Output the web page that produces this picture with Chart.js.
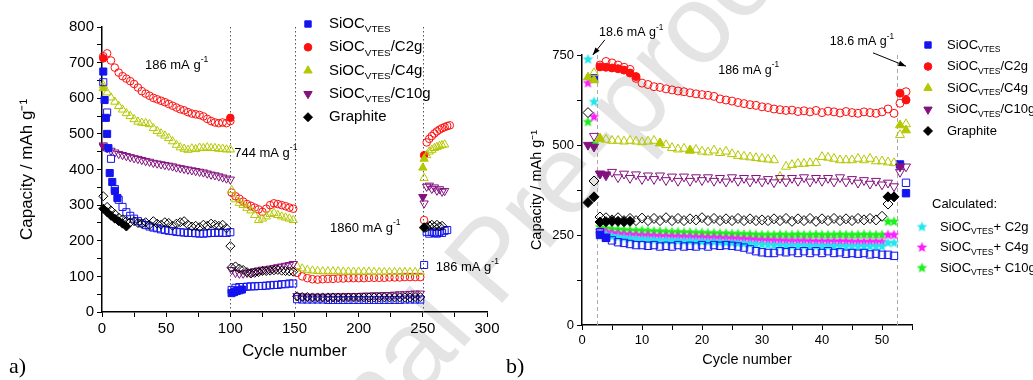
<!DOCTYPE html>
<html>
<head>
<meta charset="utf-8">
<script src="https://cdn.jsdelivr.net/npm/chart.js@4.4.1/dist/chart.umd.min.js"></script>
<style>
  html, body { margin: 0; padding: 0; background: #fff; }
  #wrap { position: relative; width: 1033px; height: 380px; overflow: hidden; }
  #wm { position: absolute; left: 490px; top: 259px; transform: translate(-50%, -50%) rotate(-49deg);
        font: 112px "Liberation Sans", Arial, sans-serif; color: #e4e4e4; white-space: nowrap; line-height: 1; }
  canvas { position: absolute; top: 0; }
  #ca { left: 0; }
  #cb { left: 515px; }
  .tag { position: absolute; font: 22px "Liberation Serif", "Times New Roman", serif; color: #000; }
</style>
</head>
<body>
<div id="wrap">
  <div id="wm">Journal Pre-proof</div>
  <canvas id="ca" width="515" height="380"></canvas>
  <canvas id="cb" width="518" height="380"></canvas>
  <div class="tag" style="left:9px;top:353px">a)</div>
  <div class="tag" style="left:506px;top:353px">b)</div>
</div>
<script>
// ---------- panel a: rate test, cycles 1-272 ----------
const aCycA = [1, 4, 7, 10, 13, 16, 19, 22, 25, 28, 31, 34, 37, 40, 43, 46, 49, 52, 55, 58, 61, 64, 67, 70, 73, 76, 79, 82, 85, 88, 91, 94, 97, 100];
const aCycB = [101, 104, 107, 110, 113, 116, 119, 122, 125, 128, 131, 134, 137, 140, 143, 146, 149];
const aCycC = [152, 156, 160, 164, 168, 172, 176, 180, 184, 188, 192, 196, 200, 204, 208, 212, 216, 220, 224, 228, 232, 236, 240, 244, 248];
const aCycD = [251, 253, 255, 257, 259, 261, 263, 265, 267, 269, 271];

const aRed = [718, 726, 706, 686, 672, 662, 655, 648, 640, 630, 620, 613, 607, 601, 597, 593, 589, 584, 579, 574, 569, 566, 561, 557, 555, 553, 549, 542, 536, 532, 530, 532, 530, 536,
  335, 325, 318, 310, 303, 298, 293, 288, 281, 290, 300, 305, 303, 300, 297, 293, 290,
  110, 100, 95, 92, 91, 92, 93, 93, 94, 94, 95, 95, 95, 95, 96, 96, 96, 96, 97, 97, 97, 98, 98, 98, 98,
  258, 476, 486, 494, 501, 507, 512, 516, 519, 522, 524];
const aYellow = [636, 616, 602, 590, 578, 568, 558, 550, 541, 534, 531, 530, 527, 516, 508, 501, 495, 488, 479, 469, 462, 458, 455, 459, 457, 461, 460, 462, 460, 460, 458, 458, 456, 456,
  342, 316, 306, 300, 292, 285, 272, 258, 262, 268, 275, 278, 272, 268, 265, 262, 258,
  128, 122, 118, 116, 115, 114, 114, 114, 114, 113, 113, 113, 113, 113, 113, 112, 112, 112, 112, 112, 112, 112, 112, 112, 112,
  376, 440, 450, 455, 460, 463, 466, 468, 470, null, null];
const aPurple = [468, 460, 453, 448, 444, 441, 438, 435, 432, 430, 427, 424, 422, 419, 417, 415, 413, 411, 409, 406, 404, 402, 400, 398, 396, 394, 392, 389, 386, 384, 381, 378, 375, 372,
  118, 110, 108, 108, 110, 112, 115, 117, 119, 120, 122, 124, 126, 128, 130, 132, 135,
  45, 44, 43, 43, 43, 43, 43, 44, 44, 44, 45, 45, 45, 46, 46, 47, 47, 48, 48, 49, 50, 50, 51, 52, 52,
  305, 352, 355, 346, 350, 341, 345, 338, 340, null, null];
const aBlue = [645, 560, 430, 345, 315, 295, 280, 270, 262, 255, 249, 244, 240, 237, 235, 232, 230, 228, 227, 225, 224, 223, 222, 222, 221, 220, 220, 221, 222, 222, 223, 222, 222, 224,
  62, 68, 70, 70, 71, 72, 72, 73, 73, 74, 75, 76, 76, 78, 78, 80, 80,
  36, 35, 35, 35, 35, 35, 34, 34, 34, 34, 34, 34, 34, 34, 34, 34, 34, 34, 34, 34, 34, 35, 35, 35, 35,
  132, 225, 220, 225, 222, 220, 225, 222, 228, 230, null];
const aBlack = [325, 295, 285, 275, 265, 260, 255, 252, 255, 250, 248, 252, 245, 255, 248, 245, 252, 250, 242, 248, 252, 255, 245, 240, 242, 238, 245, 242, 248, 245, 242, 245, 235, 185,
  125, 128, 122, 118, 112, 108, 110, 112, 115, 115, 116, 117, 118, 116, 115, 114, 113,
  44, 42, 42, 41, 41, 41, 41, 41, 41, 41, 41, 41, 41, 41, 41, 41, 41, 41, 41, 41, 41, 41, 41, 42, 42,
  236, 238, 242, 245, 240, 245, 240, 242, null, null, null];

// charge points drawn with filled symbols
const aBlueFillCyc = [1, 2, 3, 4, 5, 6, 8, 10, 12, 101, 103, 105, 107, 109];
const aBlueFill = [675, 595, 545, 500, 460, 390, 365, 340, 320, 53, 56, 59, 61, 63];
const aRedFillCyc = [1, 100, 251];
const aRedFill = [712, 545, 440];
const aYellowFillCyc = [1, 250, 251];
const aYellowFill = [628, 405, 430];
const aPurpleFillCyc = [1, 250];
const aPurpleFill = [465, 323];
const aBlackFillCyc = [1, 4, 7, 10, 13, 16, 19, 251];
const aBlackFill = [290, 280, 270, 262, 255, 248, 240, 238];

const aRateLines = [100, 150, 250];

// ---------- panel b: cycles 1-54 ----------
const bCyc = [1, 2, 3, 4, 5, 6, 7, 8, 9, 10, 11, 12, 13, 14, 15, 16, 17, 18, 19, 20, 21, 22, 23, 24, 25, 26, 27,
  28, 29, 30, 31, 32, 33, 34, 35, 36, 37, 38, 39, 40, 41, 42, 43, 44, 45, 46, 47, 48, 49, 50, 51, 52, 53, 54];

const bRed = [null, null,
  722, 732, 728, 722, 716, 710, 685, 672, 668, 662, 660, 656, 653, 650, 648, 645, 642, 640, 638, 635, 628, 625, 622, 618, 615,
  612, 610, 606, 604, 600, 598, 596, 597, 593, 595, 592, 596, 590, 594, 592, 589, 593, 590, 588, 592, 590, 588, 592, 600, 588,
  616, 648];
const bYellow = [null, 700,
  518, 515, 512, 512, 510, 512, 510, 508, 510, 512, 505, 500, 492, 488, 490, 485, 487, 482, 480, 485, 478, 482, 475, 470, 468,
  466, 464, 462, 460, 458, 412, 440, 445, 448, 448, 450, 450, 467, 465, 462, 458, 458, 458, 462, 458, 462, 455, 455, 452, 450,
  528, 558];
const bPurple = [null, 525,
  420, 415, 425, 410, 420, 408, 418, 405, 415, 405, 415, 402, 412, 400, 412, 400, 410, 402, 410, 400, 408, 398, 410, 400, 408,
  398, 408, 398, 405, 396, 408, 398, 408, 400, 410, 398, 408, 400, 408, 398, 410, 398, 405, 395, 402, 392, 400, 390, 395, 385,
  425, 440];
const bBlue = [null, null,
  258, 242, 235, 230, 228, 225, 222, 222, 220, 222, 218, 220, 218, 222, 218, 220, 218, 222, 218, 222, 220, 222, 220, 218, 215,
  210, 205, 202, 200, 200, 205, 202, 205, 200, 205, 200, 205, 200, 205, 200, 202, 198, 200, 198, 200, 196, 198, 195, 195, 192,
  null, 395];
const bBlack = [590, 400,
  300, 298, 292, 298, 290, 296, 290, 297, 290, 296, 290, 298, 290, 296, 290, 295, 292, 298, 290, 296, 290, 295, 290, 296, 290,
  295, 290, 292, 290, 295, 290, 296, 288, 295, 290, 296, 288, 295, 290, 296, 290, 295, 290, 296, 292, 296, 292, 302, 336, null,
  null, null];

const bRedFillCyc = [3, 4, 5, 6, 7, 8, 9, 53, 54];
const bRedFill = [717, 716, 714, 712, 708, 700, 690, 644, 625];
const bYellowFillCyc = [1, 2, 3, 13, 18, 53, 54];
const bYellowFill = [688, 680, 518, 505, 485, 555, 541];
const bPurpleFillCyc = [1, 2, 3, 4, 53];
const bPurpleFill = [500, 495, 420, 418, 440];
const bBlueFillCyc = [2, 3, 4, 53, 54];
const bBlueFill = [685, 250, 242, 446, 366];
const bBlackFillCyc = [1, 2, 3, 4, 5, 6, 7, 8, 51, 52];
const bBlackFill = [340, 356, 286, 287, 288, 288, 287, 288, 356, 356];

// calculated (rule of mixtures) capacities
const bCalcC2g = [738, 620,
  255, 250, 246, 244, 242, 240, 239, 238, 237, 236, 235, 235, 234, 234, 233, 233, 232, 232, 231, 231,
  230, 229, 228, 227, 226, 225, 224, 223, 222, 221, 221, 220, 220, 220, 220, 219, 219, 219, 219, 219,
  218, 218, 218, 218, 218, 218, 218, 218, 228, 228, null, null];
const bCalcC4g = [672, 578,
  262, 258, 255, 253, 251, 250, 249, 248, 248, 247, 246, 246, 245, 245, 244, 244, 243, 243, 242, 242,
  241, 240, 240, 239, 238, 237, 236, 235, 235, 234, 234, 233, 233, 233, 233, 232, 232, 232, 232, 232,
  232, 232, 231, 231, 231, 231, 231, 231, 250, 250, null, null];
const bCalcC10g = [564, 503,
  272, 268, 266, 265, 264, 263, 262, 262, 261, 260, 260, 259, 258, 258, 257, 257, 256, 256, 255, 255,
  254, 254, 253, 253, 252, 252, 251, 250, 250, 250, 251, 250, 250, 251, 250, 250, 251, 250, 250, 250,
  251, 250, 250, 250, 251, 250, 250, 250, 287, 287, null, null];

const bRateLines = [2.5, 52.5];

// ---------- styling ----------
const FONT = '"Liberation Sans", Arial, Helvetica, sans-serif';
Chart.defaults.font.family = FONT;
Chart.defaults.color = '#000';

const BLUE = '#1414f0';
const RED = '#ff1010';
const YEL = '#b4c800';
const PUR = '#83127f';
const BLK = '#000000';
const CYAN = '#22e6ee';
const MAG = '#ff1cff';
const GRN = '#1cf01c';

const SIOC = [['SiOC'], ['VTES', 1]];
const SUP = (t) => [[t], ['-1', 2]];

function starImage(color, r) {
  const s = Math.ceil(r * 2 + 2);
  const c = document.createElement('canvas');
  c.width = s;
  c.height = s;
  const g = c.getContext('2d');
  g.beginPath();
  for (let i = 0; i < 10; i++) {
    const rad = i % 2 ? r * 0.45 : r;
    const ang = -Math.PI / 2 + (i * Math.PI) / 5;
    g.lineTo(s / 2 + rad * Math.cos(ang), s / 2 + rad * Math.sin(ang));
  }
  g.closePath();
  g.fillStyle = color;
  g.fill();
  return c;
}

function pts(xs, ys) {
  return xs.map((x, i) => ({ x, y: ys[i] })).filter((p) => p.y !== null);
}

function series(xs, ys, color, style, r, filled, rot) {
  return {
    data: pts(xs, ys),
    showLine: false,
    clip: false,
    pointStyle: style,
    pointRotation: rot || 0,
    pointRadius: r,
    pointHoverRadius: r,
    pointBorderWidth: 1,
    pointBorderColor: color,
    pointBackgroundColor: filled ? color : 'rgba(255,255,255,0)',
  };
}

function drawRich(ctx, parts, x, y, size) {
  ctx.save();
  ctx.textBaseline = 'middle';
  ctx.textAlign = 'left';
  ctx.fillStyle = '#000';
  let cx = x;
  parts.forEach(([t, k]) => {
    const fs = k ? size * 0.66 : size;
    ctx.font = `${fs}px ${FONT}`;
    const dy = k === 1 ? size * 0.38 : k === 2 ? -size * 0.4 : 0;
    ctx.fillText(t, cx, y + dy);
    cx += ctx.measureText(t).width;
  });
  ctx.restore();
}

function drawMarker(ctx, m, x, y) {
  ctx.save();
  ctx.fillStyle = m.color;
  ctx.strokeStyle = m.color;
  ctx.lineWidth = 1;
  const r = m.r;
  ctx.beginPath();
  if (m.style === 'rect') {
    const h = r * Math.SQRT1_2;
    ctx.rect(x - h, y - h, 2 * h, 2 * h);
  } else if (m.style === 'circle') {
    ctx.arc(x, y, r, 0, Math.PI * 2);
  } else if (m.style === 'triangle') {
    const d = m.rot ? -1 : 1;
    ctx.moveTo(x, y - d * r);
    ctx.lineTo(x + r * 0.866, y + d * r * 0.5);
    ctx.lineTo(x - r * 0.866, y + d * r * 0.5);
    ctx.closePath();
  } else if (m.style === 'rectRot') {
    ctx.moveTo(x, y - r);
    ctx.lineTo(x + r, y);
    ctx.lineTo(x, y + r);
    ctx.lineTo(x - r, y);
    ctx.closePath();
  } else {
    ctx.drawImage(m.style, x - m.style.width / 2, y - m.style.height / 2);
    ctx.restore();
    return;
  }
  ctx.fill();
  ctx.stroke();
  ctx.restore();
}

// rate-change lines, current-density notes, arrows and the rich-text legend
const deco = {
  id: 'deco',
  beforeDatasetsDraw(chart, args, o) {
    const { ctx, chartArea: area, scales: { x } } = chart;
    ctx.save();
    ctx.strokeStyle = o.lineColor;
    ctx.lineWidth = 1;
    ctx.setLineDash(o.dash);
    o.vlines.forEach((v) => {
      const px = Math.round(x.getPixelForValue(v)) + 0.5;
      ctx.beginPath();
      ctx.moveTo(px, area.top);
      ctx.lineTo(px, area.bottom);
      ctx.stroke();
    });
    ctx.restore();
  },
  afterDatasetsDraw(chart, args, o) {
    const { ctx, scales: { x, y } } = chart;
    o.notes.forEach((n) => drawRich(ctx, n.parts, x.getPixelForValue(n.x), y.getPixelForValue(n.y), n.size));
    (o.arrows || []).forEach((a) => {
      const x1 = x.getPixelForValue(a[0]), y1 = y.getPixelForValue(a[1]);
      const x2 = x.getPixelForValue(a[2]), y2 = y.getPixelForValue(a[3]);
      const ang = Math.atan2(y2 - y1, x2 - x1);
      ctx.save();
      ctx.strokeStyle = '#000';
      ctx.fillStyle = '#000';
      ctx.lineWidth = 1;
      ctx.beginPath();
      ctx.moveTo(x1, y1);
      ctx.lineTo(x2, y2);
      ctx.stroke();
      ctx.beginPath();
      ctx.moveTo(x2, y2);
      ctx.lineTo(x2 - 8 * Math.cos(ang - 0.35), y2 - 8 * Math.sin(ang - 0.35));
      ctx.lineTo(x2 - 8 * Math.cos(ang + 0.35), y2 - 8 * Math.sin(ang + 0.35));
      ctx.closePath();
      ctx.fill();
      ctx.restore();
    });
    o.legend.forEach((it) => {
      if (it.marker) drawMarker(ctx, it.marker, it.mx, it.y);
      drawRich(ctx, it.parts, it.tx, it.y, it.size);
    });
  },
};

function axis(min, max, step, major, size, titleText, titleSize, titlePad, fixed) {
  return {
    type: 'linear',
    min,
    max,
    border: { color: '#000', width: 1.5 },
    grid: { drawOnChartArea: false, drawTicks: true, tickLength: 5, tickColor: '#000', tickWidth: 1 },
    ticks: {
      stepSize: step,
      autoSkip: false,
      maxRotation: 0,
      padding: 3,
      color: '#000',
      font: { size },
      callback: (v) => (v % major === 0 ? v : ''),
    },
    title: { display: true, text: titleText, color: '#000', font: { size: titleSize }, padding: titlePad },
    afterFit: fixed,
  };
}

// ---------- chart a ----------
const legA = [
  { marker: { style: 'rect', color: BLUE, r: 4.5 }, parts: SIOC },
  { marker: { style: 'circle', color: RED, r: 3.8 }, parts: [...SIOC, ['/C2g']] },
  { marker: { style: 'triangle', color: YEL, r: 4.8 }, parts: [...SIOC, ['/C4g']] },
  { marker: { style: 'triangle', color: PUR, r: 4.8, rot: 1 }, parts: [...SIOC, ['/C10g']] },
  { marker: { style: 'rectRot', color: BLK, r: 4.5 }, parts: [['Graphite']] },
].map((it, i) => Object.assign(it, { mx: 308, tx: 329, y: 24 + i * 23.3, size: 15 }));

const aAll = [...aCycA, ...aCycB, ...aCycC, ...aCycD];

new Chart(document.getElementById('ca'), {
  type: 'scatter',
  data: {
    datasets: [
      series(aAll, aBlack, BLK, 'rectRot', 4.5, false),
      series(aBlackFillCyc, aBlackFill, BLK, 'rectRot', 4.5, true),
      series(aAll, aBlue, BLUE, 'rect', 5, false),
      series(aBlueFillCyc, aBlueFill, BLUE, 'rect', 5, true),
      series(aAll, aPurple, PUR, 'triangle', 4.8, false, 180),
      series(aPurpleFillCyc, aPurpleFill, PUR, 'triangle', 4.8, true, 180),
      series(aAll, aYellow, YEL, 'triangle', 4.8, false),
      series(aYellowFillCyc, aYellowFill, YEL, 'triangle', 4.8, true),
      series(aAll, aRed, RED, 'circle', 3.8, false),
      series(aRedFillCyc, aRedFill, RED, 'circle', 3.8, true),
    ],
  },
  options: {
    responsive: false,
    animation: false,
    events: [],
    layout: { padding: { left: 0, top: 27, right: 28, bottom: 0 } },
    plugins: {
      legend: { display: false },
      tooltip: { enabled: false },
      deco: {
        vlines: aRateLines,
        lineColor: '#555',
        dash: [1.5, 2.5],
        notes: [
          { x: 33.5, y: 693, parts: SUP('186 mA g'), size: 13 },
          { x: 103, y: 446, parts: SUP('744 mA g'), size: 13 },
          { x: 177.7, y: 236, parts: SUP('1860 mA g'), size: 13 },
          { x: 260, y: 126, parts: SUP('186 mA g'), size: 13 },
        ],
        legend: legA,
      },
    },
    scales: {
      x: axis(0, 300, 25, 50, 15, 'Cycle number', 17, { top: 4, bottom: 18 }, (s) => { s.height = 68; }),
      y: axis(0, 800, 50, 100, 15, 'Capacity / mAh g⁻¹', 17, { top: 17, bottom: 4 }, (s) => { s.width = 102; }),
    },
  },
  plugins: [deco],
});

// ---------- chart b ----------
const starC = starImage(CYAN, 5.5);
const starM = starImage(MAG, 5.5);
const starG = starImage(GRN, 5.5);

const legB = [
  { marker: { style: 'rect', color: BLUE, r: 4.5 }, parts: SIOC },
  { marker: { style: 'circle', color: RED, r: 3.8 }, parts: [...SIOC, ['/C2g']] },
  { marker: { style: 'triangle', color: YEL, r: 4.8 }, parts: [...SIOC, ['/C4g']] },
  { marker: { style: 'triangle', color: PUR, r: 4.8, rot: 1 }, parts: [...SIOC, ['/C10g']] },
  { marker: { style: 'rectRot', color: BLK, r: 4.5 }, parts: [['Graphite']] },
].map((it, i) => Object.assign(it, { mx: 413, tx: 432, y: 45 + i * 21.5, size: 13 }));
legB.push({ parts: [['Calculated:']], tx: 417, y: 204, size: 13 });
[starC, starM, starG].forEach((img, i) => {
  legB.push({ marker: { style: img }, mx: 407, tx: 425, y: 227 + i * 20.5, size: 13, parts: [...SIOC, ['+ C' + ['2g', '4g', '10g'][i]]] });
});

new Chart(document.getElementById('cb'), {
  type: 'scatter',
  data: {
    datasets: [
      series(bCyc, bBlack, BLK, 'rectRot', 5, false),
      series(bBlackFillCyc, bBlackFill, BLK, 'rectRot', 5, true),
      series(bCyc, bPurple, PUR, 'triangle', 5.2, false, 180),
      series(bPurpleFillCyc, bPurpleFill, PUR, 'triangle', 5.2, true, 180),
      series(bCyc, bYellow, YEL, 'triangle', 5.2, false),
      series(bYellowFillCyc, bYellowFill, YEL, 'triangle', 5.2, true),
      series(bCyc, bRed, RED, 'circle', 4, false),
      series(bRedFillCyc, bRedFill, RED, 'circle', 4, true),
      series(bCyc, bBlue, BLUE, 'rect', 5.2, false),
      series(bBlueFillCyc, bBlueFill, BLUE, 'rect', 5.2, true),
      series(bCyc, bCalcC2g, CYAN, starC, 5.5, true),
      series(bCyc, bCalcC4g, MAG, starM, 5.5, true),
      series(bCyc, bCalcC10g, GRN, starG, 5.5, true),
    ],
  },
  options: {
    responsive: false,
    animation: false,
    events: [],
    layout: { padding: { left: 0, top: 55, right: 121, bottom: 0 } },
    plugins: {
      legend: { display: false },
      tooltip: { enabled: false },
      deco: {
        vlines: bRateLines,
        lineColor: '#aaa',
        dash: [4, 3],
        notes: [
          { x: 2.83, y: 811, parts: SUP('18.6 mA g'), size: 12.5 },
          { x: 22.7, y: 708, parts: SUP('186 mA g'), size: 12.5 },
          { x: 41.3, y: 786, parts: SUP('18.6 mA g'), size: 12.5 },
        ],
        arrows: [
          [3.8, 792, 1.8, 750],
          [48.5, 756, 54, 719],
        ],
        legend: legB,
      },
    },
    scales: {
      x: axis(0, 55, 5, 10, 13, 'Cycle number', 14.5, { top: 4, bottom: 11 }, (s) => { s.height = 55; }),
      y: axis(0, 750, 125, 250, 13, 'Capacity / mAh g⁻¹', 14.5, { top: 13, bottom: 4 }, (s) => { s.width = 67; }),
    },
  },
  plugins: [deco],
});
</script>
</body>
</html>
